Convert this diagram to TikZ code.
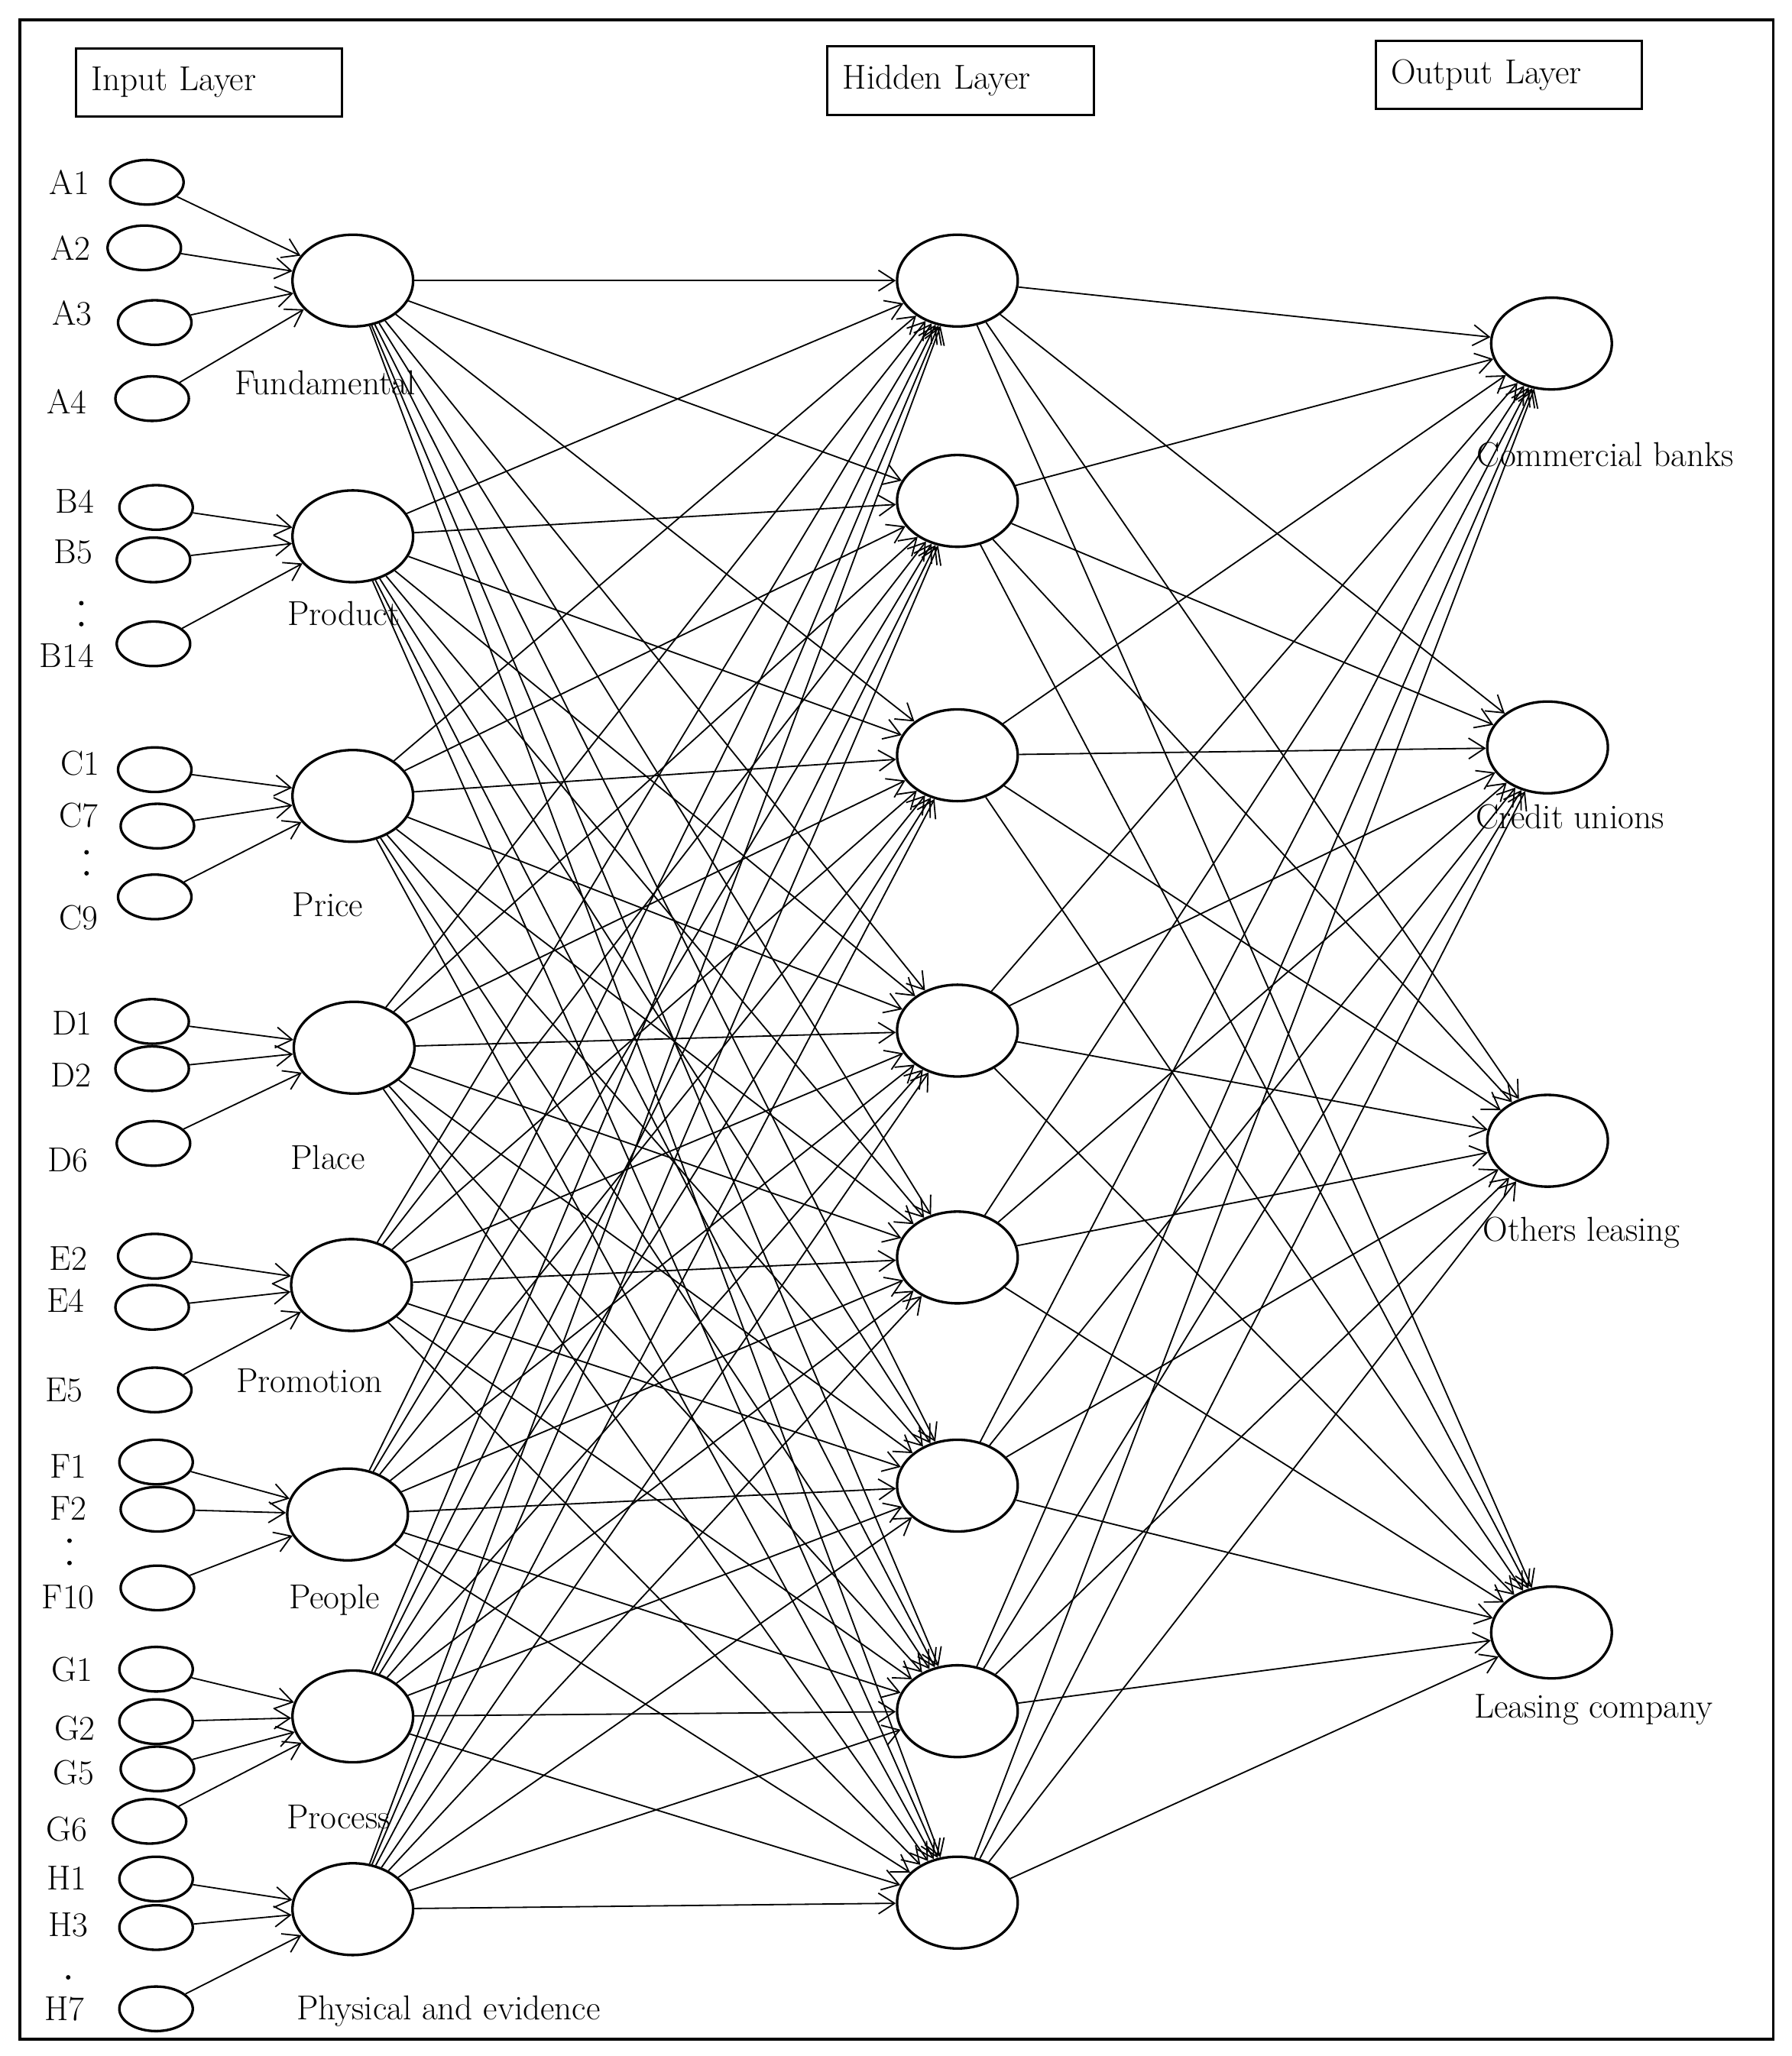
\documentclass[tikz,border=0pt]{standalone}
\usetikzlibrary{shapes.geometric,arrows.meta}
\begin{document}
\begin{tikzpicture}[x=0.02cm,y=-0.02cm,
  sm/.style={ellipse,draw,line width=1.1pt,minimum width=1.12cm,minimum height=0.68cm,inner sep=0pt},
  bg/.style={ellipse,draw,line width=1.1pt,minimum width=1.84cm,minimum height=1.4cm,inner sep=0pt},
  lab/.style={font=\fontsize{15}{18}\selectfont,inner sep=0pt},
  hdr/.style={draw,line width=1pt,minimum width=4.06cm,minimum height=1.04cm,font=\fontsize{15}{18}\selectfont,text width=3.6cm,align=left},
  con/.style={line width=0.6pt,-{Straight Barb[length=7pt,width=9pt]}}]
\useasboundingbox (0,0) rectangle (1366,1568);
\draw[line width=1.2pt] (15,15) rectangle (1352,1555);
\node[hdr] (hin) at (159.5,63) {Input Layer};
\node[hdr] (hhid) at (732.5,61.5) {Hidden Layer};
\node[hdr] (hout) at (1150.5,57) {Output Layer};
% input small ellipses and labels
\foreach \n/\x/\y/\t/\lx/\ly in {1/112/139/A1/53/139,2/110/189/A2/54/189,3/118/246/A3/55/239,4/116/304/A4/51/306,
 5/119/387/B4/57/382,6/117/427/B5/56/421,7/117/491/B14/51/500,
 8/118/587/C1/61/582,9/120/630/C7/60/622,10/118/684/C9/60/700,
 11/116/779/D1/55/780,12/116/815/D2/54/820,13/117/872/D6/52/885,
 14/118/958/E2/52/960,15/116/997/E4/50/992,16/118/1060/E5/49/1060,
 17/119/1115/F1/52/1118,18/120/1151/F2/52/1150,19/120/1211/F10/52/1218,
 20/119/1273/G1/55/1273,21/119/1313/G2/57/1318,22/120/1349/G5/56/1352,23/114/1389/G6/51/1395,
 24/119/1433/H1/51/1432,25/119/1470/H3/52/1468,26/119/1532/H7/49/1532}{
  \node[sm] (i\n) at (\x,\y) {};
  \node[lab] (t\n) at (\lx,\ly) {\t};
}
\foreach \k/\x/\y in {1/62/460,2/62/476,3/66/650,4/66/666,5/53/1175,6/53/1192,7/52/1508}{
  \node[circle,fill,inner sep=0.7pt] (dot\k) at (\x,\y) {};
}
% layer 1
\foreach \n/\x/\y/\t/\lx/\ly in {1/269/214/Fundamental/248/292,2/269/409/Product/262/468,3/269/607/Price/250/690,
 4/270/799/Place/250/883,5/268/980/Promotion/236/1053,6/265/1155/People/255/1220,
 7/269/1309/Process/258/1386,8/269/1456/Physical and evidence/342/1534}{
  \node[bg] (l\n) at (\x,\y) {};
  \node[lab] (lt\n) at (\lx,\ly) {\t};
}
% hidden
\foreach \n/\y in {1/214,2/382,3/576,4/786,5/959,6/1133,7/1305,8/1451}{
  \node[bg] (h\n) at (730,\y) {};
}
% output
\foreach \n/\x/\y/\t/\lx/\ly in {1/1183/262/Commercial banks/1224/347,2/1180/570/Credit unions/1197/623,
 3/1180/870/Others leasing/1206/940,4/1183/1245/Leasing company/1215/1304}{
  \node[bg] (o\n) at (\x,\y) {};
  \node[lab] (ot\n) at (\lx,\ly) {\t};
}
% input connections
\foreach \a/\b in {1/1,2/1,3/1,4/1,5/2,6/2,7/2,8/3,9/3,10/3,11/4,12/4,13/4,14/5,15/5,16/5,
 17/6,18/6,19/6,20/7,21/7,22/7,23/7,24/8,25/8,26/8}{
  \draw[con] (i\a) -- (l\b);
}
\foreach \a in {1,...,8}{\foreach \b in {1,...,8}{\draw[con] (l\a) -- (h\b);}}
\foreach \a in {1,...,8}{\foreach \b in {1,...,4}{\draw[con] (h\a) -- (o\b);}}
\end{tikzpicture}
\end{document}
